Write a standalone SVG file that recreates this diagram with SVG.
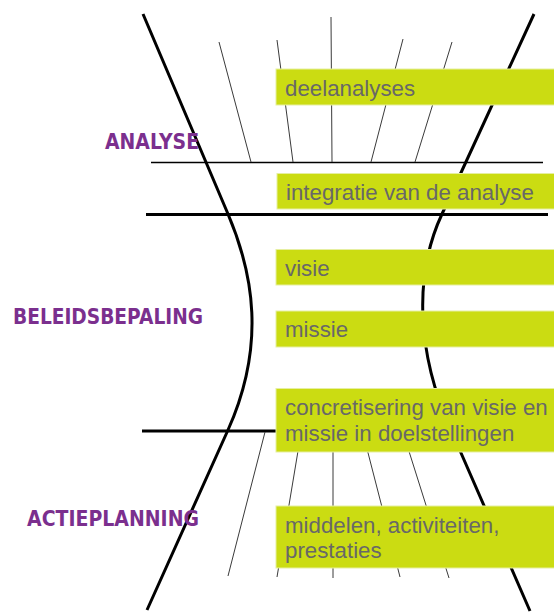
<svg xmlns="http://www.w3.org/2000/svg" width="554" height="612" viewBox="0 0 554 612">
<style>
.thick{fill:none;stroke:#000;stroke-width:3;stroke-linecap:butt}
.thin{fill:none;stroke:#3a3a3a;stroke-width:1}
.box{fill:#cbdc12;stroke:#e6efa0;stroke-width:1}
.bt{font-family:"Liberation Sans",Arial,sans-serif;font-size:22.3px;fill:#686868}
.lbl{font-family:"DejaVu Sans","Liberation Sans",sans-serif;font-weight:bold;font-size:22px;fill:#7b2f8e}
</style>
<rect width="554" height="612" fill="#fff"/>
<g id="connectors">
<path class="thick" d="M143,14 L228,214 C253.5,274 266,345 228,430 L147,610"/>
<path class="thick" d="M534,14 L442,214 C414,274 416,352 451,430 L530,611"/>
<line x1="151" y1="162.5" x2="543" y2="162.5" stroke="#000" stroke-width="1.3"/>
<line x1="146" y1="214.5" x2="548" y2="214.5" stroke="#000" stroke-width="3"/>
<line x1="142" y1="431" x2="280" y2="431" stroke="#000" stroke-width="3"/>
<line class="thin" x1="219" y1="42" x2="251" y2="162"/>
<line class="thin" x1="277" y1="40" x2="293" y2="162"/>
<line class="thin" x1="331" y1="17" x2="332" y2="162"/>
<line class="thin" x1="403" y1="39" x2="371" y2="162"/>
<line class="thin" x1="452" y1="42" x2="415" y2="162"/>
<line class="thin" x1="265" y1="432" x2="228" y2="576"/>
<line class="thin" x1="299" y1="445" x2="277" y2="577"/>
<line class="thin" x1="333" y1="445" x2="333" y2="578"/>
<line class="thin" x1="366" y1="445" x2="400" y2="577"/>
<line class="thin" x1="407" y1="445" x2="449" y2="578"/>
</g>
<g id="deelanalyses"><rect class="box" x="276" y="69" width="280" height="36"/><text class="bt" x="285" y="96">deelanalyses</text></g>
<g id="integratie"><rect class="box" x="277" y="173.5" width="279" height="35.5"/><text class="bt" x="286" y="200">integratie van de analyse</text></g>
<g id="visie"><rect class="box" x="276" y="249.5" width="280" height="35.5"/><text class="bt" x="285" y="276">visie</text></g>
<g id="missie"><rect class="box" x="276" y="311" width="280" height="36"/><text class="bt" x="285" y="337">missie</text></g>
<g id="concretisering"><rect class="box" x="276" y="388.5" width="280" height="63.5"/><text class="bt" x="285" y="415">concretisering van visie en</text><text class="bt" x="285" y="441">missie in doelstellingen</text></g>
<g id="middelen"><rect class="box" x="276" y="506" width="280" height="62"/><text class="bt" x="285" y="533">middelen, activiteiten,</text><text class="bt" x="285" y="558">prestaties</text></g>
<g id="labels">
<text class="lbl" x="105" y="149" textLength="94" lengthAdjust="spacingAndGlyphs">ANALYSE</text>
<text class="lbl" x="13" y="324" textLength="190" lengthAdjust="spacingAndGlyphs">BELEIDSBEPALING</text>
<text class="lbl" x="27" y="526" textLength="172" lengthAdjust="spacingAndGlyphs">ACTIEPLANNING</text>
</g>
</svg>
